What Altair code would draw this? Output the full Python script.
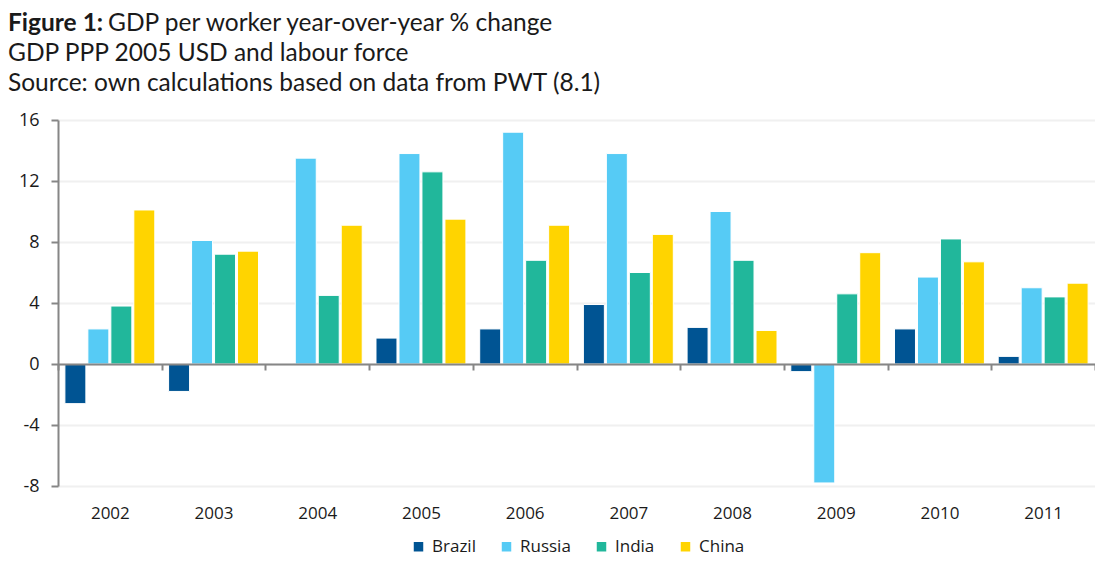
import altair as alt
import pandas as pd

years = ["2002", "2003", "2004", "2005", "2006", "2007", "2008", "2009", "2010", "2011"]
countries = ["Brazil", "Russia", "India", "China"]
brazil = [-2.6, -1.8, 0.0, 1.7, 2.3, 3.9, 2.4, -0.5, 2.3, 0.5]
russia = [2.3, 8.1, 13.5, 13.8, 15.2, 13.8, 10.0, -7.8, 5.7, 5.0]
india = [3.8, 7.2, 4.5, 12.6, 6.8, 6.0, 6.8, 4.6, 8.2, 4.4]
china = [10.1, 7.4, 9.1, 9.5, 9.1, 8.5, 2.2, 7.3, 6.7, 5.3]
colors = ["#005493", "#56CBF5", "#21B79B", "#FFD400"]
y_ticks = [-8, -4, 0, 4, 8, 12, 16]

title_bold = "Figure 1:"
title_rest = "GDP per worker year-over-year % change"
subtitle_1 = "GDP PPP 2005 USD and labour force"
subtitle_2 = "Source: own calculations based on data from PWT (8.1)"

rows = []
for i, yr in enumerate(years):
    for c, vals in zip(countries, [brazil, russia, india, china]):
        rows.append({"year": yr, "country": c, "value": vals[i]})
df = pd.DataFrame(rows)

W, H = 1037, 366
AX = "#868686"
TXT = "#1a1a1a"
TFS = 24.5

bars = alt.Chart(df).mark_bar(stroke="white", strokeWidth=1).encode(
    x=alt.X(
        "year:N",
        sort=years,
        scale=alt.Scale(paddingInner=0, paddingOuter=0),
        axis=alt.Axis(
            title=None, orient="bottom", offset=-122,
            domainColor=AX, domainWidth=2,
            tickColor=AX, tickWidth=2, tickSize=6, tickBand="extent",
            labelAngle=0, labelFont="Open Sans", labelFontSize=17,
            labelColor=TXT, labelBaseline="middle", labelPadding=143,
            grid=False, zindex=1,
        ),
    ),
    xOffset=alt.XOffset(
        "country:N", sort=countries,
        scale=alt.Scale(paddingInner=0.087, paddingOuter=0.3),
    ),
    y=alt.Y(
        "value:Q",
        scale=alt.Scale(domain=[-8, 16], nice=False, zero=False),
        axis=alt.Axis(
            title=None, values=y_ticks, labelExpr="'' + datum.value",
            domainColor=AX, domainWidth=2,
            tickColor=AX, tickWidth=2, tickSize=7,
            labelFont="Open Sans", labelFontSize=18, labelColor=TXT,
            labelPadding=12,
            grid=True, gridColor="#F0F0F0", gridWidth=2,
        ),
    ),
    color=alt.Color(
        "country:N", sort=countries,
        scale=alt.Scale(domain=countries, range=colors),
        legend=alt.Legend(
            title=None, orient="none", legendX=352, legendY=418,
            direction="horizontal", symbolType="square", symbolSize=90,
            symbolStrokeWidth=0, labelFont="Open Sans", labelFontSize=17,
            labelColor=TXT, labelOffset=5, columnPadding=22, padding=0,
        ),
    ),
)

one = pd.DataFrame({"k": [0]})
t1 = alt.Chart(one).mark_text(
    text=title_bold, font="Lato", fontSize=TFS, fontWeight="bold",
    align="left", baseline="middle", color=TXT,
).encode(x=alt.value(-50), y=alt.value(-96))
t2 = alt.Chart(one).mark_text(
    text=title_rest, font="Lato", fontSize=TFS,
    align="left", baseline="middle", color=TXT,
).encode(x=alt.value(50), y=alt.value(-96))
t3 = alt.Chart(one).mark_text(
    text=subtitle_1, font="Lato", fontSize=TFS,
    align="left", baseline="middle", color=TXT,
).encode(x=alt.value(-50), y=alt.value(-66))
t4 = alt.Chart(one).mark_text(
    text=subtitle_2, font="Lato", fontSize=TFS,
    align="left", baseline="middle", color=TXT,
).encode(x=alt.value(-50), y=alt.value(-36))

chart = alt.layer(bars, t1, t2, t3, t4).properties(
    width=W, height=H,
    autosize=alt.AutoSizeParams(type="none"),
    padding={"left": 50, "top": 112, "right": 0, "bottom": 75},
).configure_view(stroke=None)

chart.save("out.html", embed_options={"renderer": "svg", "actions": False})
